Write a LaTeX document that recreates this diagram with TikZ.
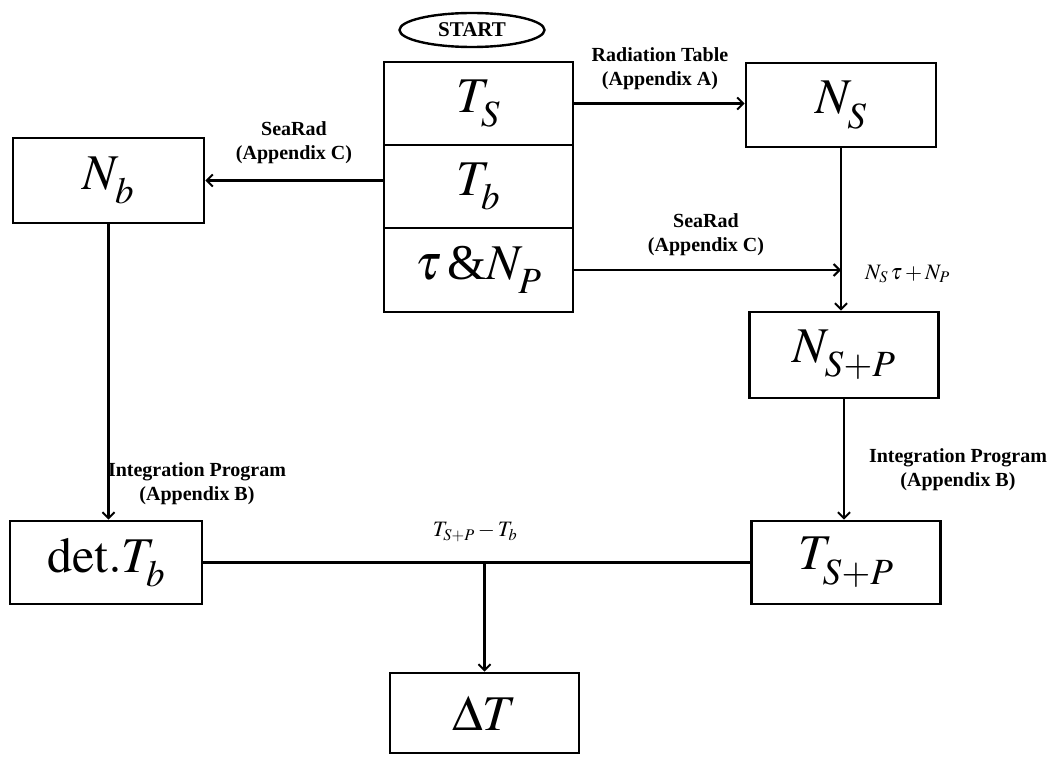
\documentclass[tikz,border=0pt]{standalone}
\usepackage{mathptmx}
\usepackage{fontspec}
\setmainfont{Liberation Serif}
\usetikzlibrary{arrows.meta,shapes.geometric}
\newcommand\lsub[1]{_{\raisebox{-0.14em}{$\scriptstyle #1$}}}
\begin{document}
\begin{tikzpicture}[x=1pt,y=-1pt,
  box/.style={draw,line width=2.8pt,rectangle,inner sep=0pt,
    font=\fontsize{50}{60}\selectfont},
  lbl/.style={font=\fontsize{20}{24}\selectfont\bfseries,align=center,inner sep=0pt},
  small/.style={font=\fontsize{22}{26}\selectfont,inner sep=0pt},
  conn/.style={line width=2.4pt},
  arr/.style={conn,-{Straight Barb[length=6pt,width=12pt,line width=2pt]}}]
\useasboundingbox (0,0) rectangle (1057,757);
\fill[white] (0,0) rectangle (1057,757);
% start
\node[draw,ellipse,line width=2.4pt,minimum width=145pt,minimum height=34pt,inner sep=0pt,
  font=\fontsize{21}{24}\selectfont\bfseries] (start) at (472,30) {START};
% central stack
\node[box,minimum width=189pt,minimum height=83pt] (ts) at (478.5,103.5) {$T\lsub{S}$};
\node[box,minimum width=189pt,minimum height=83pt] (tb) at (478.5,186.5) {$T\lsub{b}$};
\node[box,minimum width=189pt,minimum height=84pt] (tau) at (478.5,270) {$\tau\,\mbox{\&}N\lsub{P}$};
% other boxes
\node[box,minimum width=191pt,minimum height=85pt] (nb) at (108.5,180.5) {$N\lsub{b}$};
\node[box,minimum width=190pt,minimum height=84pt] (ns) at (841,105) {$N\lsub{S}$};
\node[box,minimum width=189pt,minimum height=86pt] (nsp) at (844,355) {$N\lsub{S{+}P}$};
\node[box,minimum width=189pt,minimum height=83pt] (tsp) at (846,562.5) {$T\lsub{S{+}P}$};
\node[box,minimum width=192pt,minimum height=83pt] (det) at (106,562.5) {$\mathrm{det.}T\lsub{b}$};
\node[box,minimum width=189pt,minimum height=80pt] (dt) at (484.5,713) {$\Delta T$};
% connectors
\draw[arr] (ts.east) -- (ts.east -| ns.west);
\draw[arr] (nb.east -| tb.west) -- (nb.east);
\coordinate (j1) at (tau.east -| ns.south);
\draw[arr] (tau.east) -- (j1);
\draw[arr] (ns.south) -- (ns.south |- nsp.north);
\draw[arr] (nb.south) -- (nb.south |- det.north);
\draw[arr] (nsp.south) -- (nsp.south |- tsp.north);
\draw[conn] (det.east) -- (tsp.west);
\coordinate (j2) at (dt.north |- det.east);
\draw[arr] (j2) -- (dt.north);
% labels
\node[lbl] (l1) at (660,69) {Radiation Table\\(Appendix A)};
\node[lbl] (l2) at (294,143) {SeaRad\\(Appendix C)};
\node[lbl] (l3) at (706,235) {SeaRad\\(Appendix C)};
\node[lbl] (l4) at (197,484) {Integration Program\\(Appendix B)};
\node[lbl] (l5) at (958,470) {Integration Program\\(Appendix B)};
\node[small,anchor=west] (l6) at (865,274) {$N_S\,\tau+N_P$};
\node[small] (l7) at (475,532) {$T_{S+P}-T_b$};
\end{tikzpicture}
\end{document}
